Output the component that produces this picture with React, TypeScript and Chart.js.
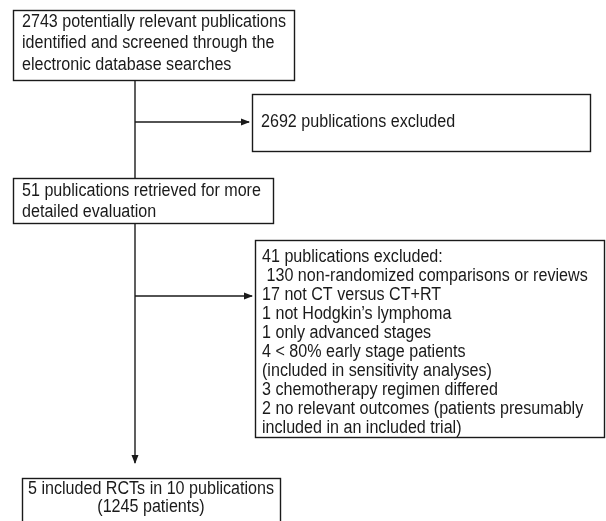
import React, { useEffect, useRef } from "react";
import { Chart, registerables } from "chart.js";

Chart.register(...registerables);

// Flow stages (text content)
const boxTexts: string[][] = [
  [
    "2743 potentially relevant publications",
    "identified and screened through the",
    "electronic database searches",
  ],
  ["2692 publications excluded"],
  ["51 publications retrieved for more", "detailed evaluation"],
  [
    "41 publications excluded:",
    " 130 non-randomized comparisons or reviews",
    "17 not CT versus CT+RT",
    "1 not Hodgkin\u2019s lymphoma",
    "1 only advanced stages",
    "4 < 80% early stage patients",
    "(included in sensitivity analyses)",
    "3 chemotherapy regimen differed",
    "2 no relevant outcomes (patients presumably",
    "included in an included trial)",
  ],
  ["5 included RCTs in 10 publications", "(1245 patients)"],
];
const boxCentered = [false, false, false, false, true];

// Layout in chart units (x: 0..606, y: 0..521 top-down)
const boxLeft = [13, 252, 13, 255, 22];
const boxTop = [10, 94, 178, 240, 478];
const boxRight = [294, 590, 273, 604, 280];
const boxBottom = [80, 151, 223, 437, 530];
const textFirstY = [22, 122, 191, 257, 489];
const lineGap = [21.3, 21, 21, 19, 18.5];
const textPadX = [9, 9, 9, 7, 0];

const trunkX = 135;
const connectors = [
  { x1: trunkX, y1: 80, x2: trunkX, y2: 178, arrow: false },
  { x1: trunkX, y1: 122, x2: 249, y2: 122, arrow: true },
  { x1: trunkX, y1: 223, x2: trunkX, y2: 463, arrow: true },
  { x1: trunkX, y1: 296, x2: 252, y2: 296, arrow: true },
];

const FONT = '18px "Liberation Sans", Arial, sans-serif';
const REF_LINE_WIDTH = 264; // width of first line in reference

const flowPlugin = {
  id: "flow",
  afterDraw(chart: any) {
    const ctx = chart.ctx;
    const xs = chart.scales.x;
    const ys = chart.scales.y;
    const px = (v: number) => xs.getPixelForValue(v);
    const py = (v: number) => ys.getPixelForValue(v);
    ctx.save();
    ctx.font = FONT;
    const sx = REF_LINE_WIDTH / ctx.measureText(boxTexts[0][0]).width;
    ctx.strokeStyle = "#1a1a1a";
    ctx.fillStyle = "#1a1a1a";
    ctx.lineWidth = 1.4;
    // connectors
    connectors.forEach((c) => {
      const x1 = px(c.x1), y1 = py(c.y1), x2 = px(c.x2), y2 = py(c.y2);
      ctx.beginPath();
      ctx.moveTo(x1, y1);
      ctx.lineTo(x2, y2);
      ctx.stroke();
      if (c.arrow) {
        const ang = Math.atan2(y2 - y1, x2 - x1);
        const L = 8, W = 3.5;
        ctx.beginPath();
        ctx.moveTo(x2 + Math.cos(ang) * 1, y2 + Math.sin(ang) * 1);
        ctx.lineTo(x2 - Math.cos(ang) * L - Math.sin(ang) * W, y2 - Math.sin(ang) * L + Math.cos(ang) * W);
        ctx.lineTo(x2 - Math.cos(ang) * L + Math.sin(ang) * W, y2 - Math.sin(ang) * L - Math.cos(ang) * W);
        ctx.closePath();
        ctx.fill();
      }
    });
    // boxes
    boxTexts.forEach((lines, i) => {
      const l = px(boxLeft[i]), t = py(boxTop[i]);
      const r = px(boxRight[i]), b = py(boxBottom[i]);
      ctx.fillStyle = "#fff";
      ctx.fillRect(l, t, r - l, b - t);
      ctx.strokeRect(Math.round(l) + 0.5, Math.round(t) + 0.5, Math.round(r - l), Math.round(b - t));
      ctx.fillStyle = "#1a1a1a";
      ctx.font = FONT;
      ctx.textBaseline = "middle";
      lines.forEach((s, k) => {
        const y = py(textFirstY[i] + k * lineGap[i]);
        const anchor = boxCentered[i] ? (l + r) / 2 : l + textPadX[i];
        ctx.save();
        ctx.translate(anchor, y);
        ctx.scale(sx, 1);
        ctx.textAlign = boxCentered[i] ? "center" : "left";
        ctx.fillText(s, 0, 0);
        ctx.restore();
      });
    });
    ctx.restore();
  },
};

export default function App() {
  const ref = useRef<HTMLCanvasElement | null>(null);
  useEffect(() => {
    document.body.style.margin = "0";
    const chart = new Chart(ref.current as HTMLCanvasElement, {
      type: "scatter",
      data: { datasets: [{ data: [], pointRadius: 0 }] },
      options: {
        animation: false,
        responsive: false,
        maintainAspectRatio: false,
        layout: { padding: 0 },
        plugins: { legend: { display: false }, tooltip: { enabled: false } },
        scales: {
          x: { type: "linear", min: 0, max: 606, display: false },
          y: { type: "linear", min: 0, max: 521, reverse: true, display: false },
        },
      },
      plugins: [flowPlugin],
    });
    return () => chart.destroy();
  }, []);
  return (
    <div style={{ width: 606, height: 521, background: "#fff" }}>
      <canvas ref={ref} width={606} height={521} style={{ display: "block" }} />
    </div>
  );
}
